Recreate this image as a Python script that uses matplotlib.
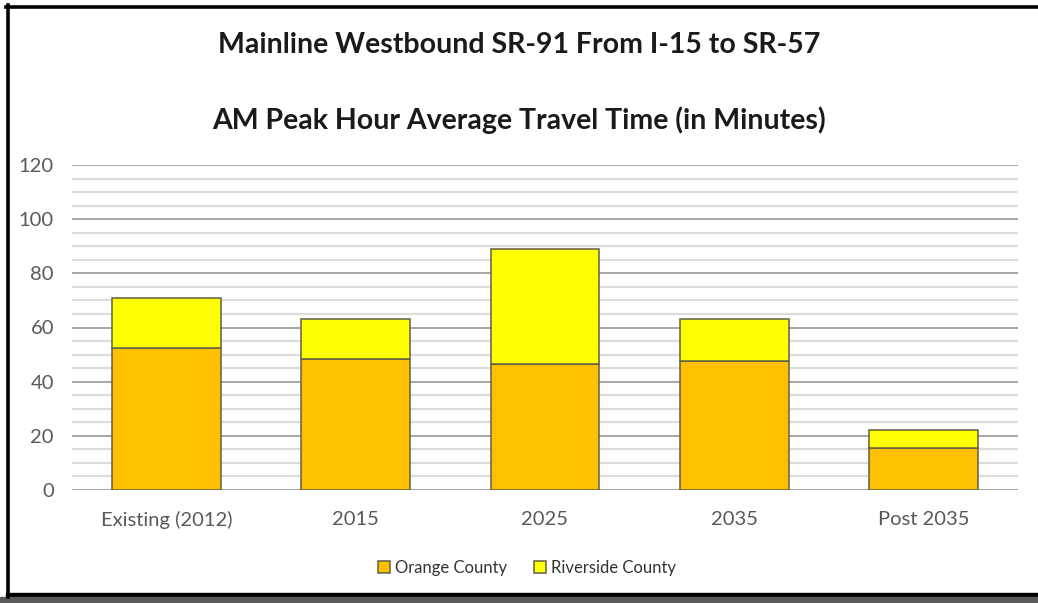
import matplotlib.pyplot as plt
import numpy as np
from matplotlib.patches import Patch
from matplotlib.lines import Line2D

# Data
categories = ['Existing (2012)', '2015', '2025', '2035', 'Post 2035']
orange_county = [52.5, 48.5, 46.5, 47.5, 15.5]
riverside_county = [18.5, 14.5, 42.5, 15.5, 6.5]

plt.rcParams['font.family'] = ['Lato', 'DejaVu Sans']

fig = plt.figure(figsize=(10.38, 6.03), dpi=100)
ax = fig.add_axes([72 / 1038, 1 - 490 / 603, 946 / 1038, 325 / 603])

x = np.arange(len(categories))
width = 0.576
edge = '#5f5f45'
ax.bar(x, orange_county, width, color='#FFC000', edgecolor=edge, linewidth=1.1, zorder=3,
       label='Orange County')
ax.bar(x, riverside_county, width, bottom=orange_county, color='#FFFF00', edgecolor=edge,
       linewidth=1.1, zorder=3, label='Riverside County')

# gridlines: minor every 5, major every 20
for yv in np.arange(0, 121, 5):
    if yv % 20 == 0:
        ax.axhline(yv, color='#a6a6a6', linewidth=1.4, zorder=1)
    else:
        ax.axhline(yv, color='#dcdcdc', linewidth=1.6, zorder=1)

ax.set_xlim(-0.5, len(categories) - 0.5)
ax.set_ylim(0, 120)
ax.set_yticks(np.arange(0, 121, 20))
ax.set_xticks(x)
ax.set_xticklabels(categories)
ax.tick_params(axis='both', length=0, labelsize=14.5, colors='#595959')
ax.tick_params(axis='y', pad=13)
ax.tick_params(axis='x', pad=15)
for s in ax.spines.values():
    s.set_visible(False)

fig.text(0.5, 1 - 45 / 603, 'Mainline Westbound SR-91 From I-15 to SR-57',
         ha='center', va='center', fontsize=20.5, fontweight='bold', color='#1a1a1a')
fig.text(0.5, 1 - 120 / 603, 'AM Peak Hour Average Travel Time (in Minutes)',
         ha='center', va='center', fontsize=20.5, fontweight='bold', color='#1a1a1a')

handles = [Patch(facecolor='#FFC000', edgecolor=edge, linewidth=1.1),
           Patch(facecolor='#FFFF00', edgecolor=edge, linewidth=1.1)]
fig.legend(handles, ['Orange County', 'Riverside County'], loc='center',
           bbox_to_anchor=(527 / 1038, 1 - 568 / 603), ncol=2, frameon=False,
           fontsize=12, handlelength=0.7, handleheight=0.7, handletextpad=0.3,
           columnspacing=1.6, labelcolor='#333333')

# outer frame: black on left, top, bottom, grey strip below
fig.add_artist(Line2D([7.5 / 1038, 7.5 / 1038], [1 - 5 / 603, 1 - 597 / 603],
                      color='black', linewidth=2.6, transform=fig.transFigure))
fig.add_artist(Line2D([6 / 1038, 1], [1 - 6.5 / 603, 1 - 6.5 / 603],
                      color='black', linewidth=2.6, transform=fig.transFigure))
fig.add_artist(plt.Rectangle((6 / 1038, 1 - 597 / 603), 1, 4 / 603, color='black',
                             transform=fig.transFigure))
fig.add_artist(plt.Rectangle((0, 0), 1, 6 / 603, color='#595959',
                             transform=fig.transFigure))

fig.savefig('out.png', dpi=100)
